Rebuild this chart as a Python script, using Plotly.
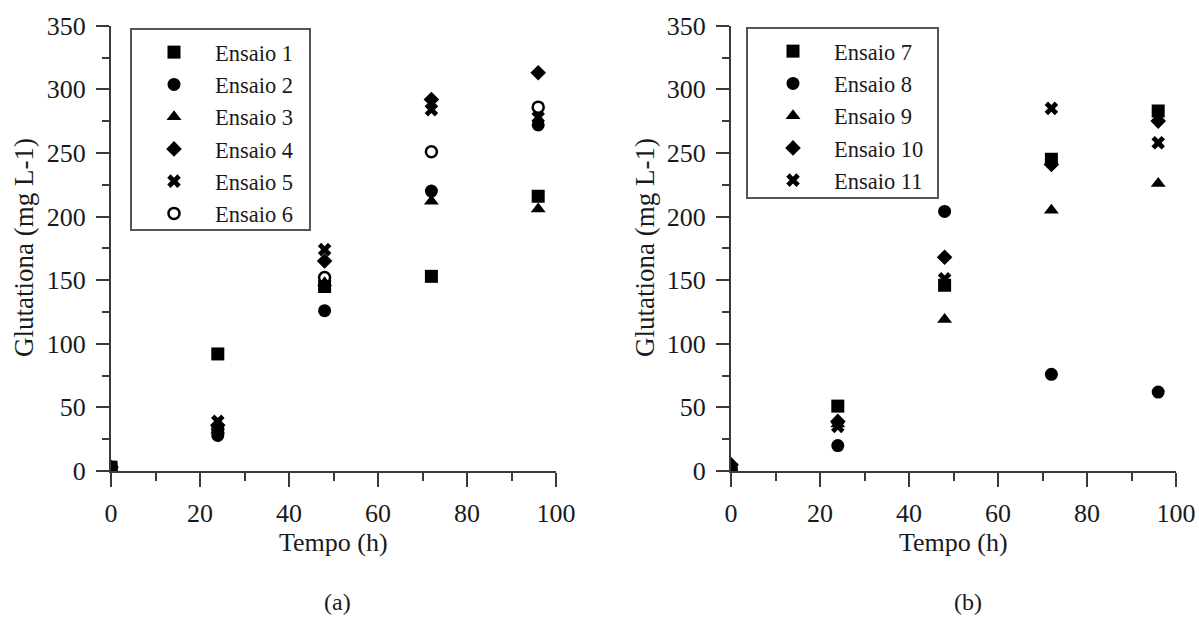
import plotly.graph_objects as go

# ---------------- data ----------------
tempo = [0, 24, 48, 72, 96]

nomes_a = ["Ensaio 1", "Ensaio 2", "Ensaio 3", "Ensaio 4", "Ensaio 5", "Ensaio 6"]
ensaio1 = [3, 92, 145, 153, 216]
ensaio2 = [3, 28, 126, 220, 272]
ensaio3 = [3, 32, 148, 212, 206]
ensaio4 = [3, 36, 165, 292, 313]
ensaio5 = [3, 39, 174, 284, 278]
ensaio6 = [3, 33, 152, 251, 286]

nomes_b = ["Ensaio 7", "Ensaio 8", "Ensaio 9", "Ensaio 10", "Ensaio 11"]
ensaio7 = [1, 51, 146, 245, 283]
ensaio8 = [2, 20, 204, 76, 62]
ensaio9 = [3, 37, 119, 205, 226]
ensaio10 = [5, 39, 168, 241, 275]
ensaio11 = [2, 35, 151, 285, 258]

x_ticks = [0, 20, 40, 60, 80, 100]
y_ticks = [0, 50, 100, 150, 200, 250, 300, 350]

# ---------------- styles ----------------
FONT = "Liberation Serif, Times New Roman, serif"
AX = "#3a3a3a"
TXT = "#1a1a1a"
styles_a = [
    dict(symbol="square", size=13, color="black"),
    dict(symbol="circle", size=13, color="black"),
    dict(symbol="triangle-up", size=13, color="black"),
    dict(symbol="diamond", size=12, color="black"),
    dict(symbol="x", size=12, color="black"),
    dict(symbol="circle", size=11, color="white", line=dict(color="black", width=2.5)),
]
styles_b = styles_a[:5]

series_a = [ensaio1, ensaio2, ensaio3, ensaio4, ensaio5, ensaio6]
series_b = [ensaio7, ensaio8, ensaio9, ensaio10, ensaio11]

fig = go.Figure()

for name, ys, st in reversed(list(zip(nomes_a, series_a, styles_a))):
    fig.add_trace(go.Scatter(x=tempo, y=ys, mode="markers", name=name, marker=st,
                             xaxis="x", yaxis="y", legend="legend"))
for name, ys, st in reversed(list(zip(nomes_b, series_b, styles_b))):
    fig.add_trace(go.Scatter(x=tempo, y=ys, mode="markers", name=name, marker=st,
                             xaxis="x2", yaxis="y2", legend="legend2"))

W, H = 1199, 617
def px(x): return x / W
def py(y): return 1 - y / H

ydom = [py(471), py(25.7)]

def xaxis(dom, anchor):
    return dict(domain=dom, anchor=anchor, range=[0, 100], tickvals=x_ticks,
                showline=True, linecolor=AX, linewidth=2, ticks="outside", ticklen=14,
                tickwidth=2, tickcolor=AX, showgrid=False, zeroline=False,
                tickfont=dict(family=FONT, size=26, color=TXT),
                ticklabelstandoff=4,
                minor=dict(dtick=10, ticks="outside", ticklen=8, tickwidth=2, tickcolor=AX,
                           showgrid=False))

def yaxis(anchor):
    return dict(domain=ydom, anchor=anchor, range=[0, 350], tickvals=y_ticks,
                showline=True, linecolor=AX, linewidth=2, ticks="outside", ticklen=13,
                tickwidth=2, tickcolor=AX, showgrid=False, zeroline=False,
                tickfont=dict(family=FONT, size=26, color=TXT),
                ticklabelstandoff=5,
                minor=dict(dtick=25, ticks="outside", ticklen=7, tickwidth=2, tickcolor=AX,
                           showgrid=False))

legend_common = dict(font=dict(family=FONT, size=22.5, color=TXT),
                     bgcolor="rgba(0,0,0,0)", borderwidth=0, traceorder="reversed",
                     xanchor="left", yanchor="top", itemwidth=72)

fig.update_layout(
    width=W, height=H,
    margin=dict(l=0, r=0, t=0, b=0, autoexpand=False),
    font=dict(family=FONT, color=TXT),
    paper_bgcolor="white", plot_bgcolor="white",
    showlegend=True,
    xaxis=xaxis([px(111), px(556)], "y"),
    yaxis=yaxis("x"),
    xaxis2=xaxis([px(731), px(1176)], "y2"),
    yaxis2=yaxis("x2"),
    legend=dict(x=px(133), y=py(31), **legend_common),
    legend2=dict(x=px(752), y=py(30), **legend_common),
    shapes=[
        dict(type="rect", xref="paper", yref="paper", x0=px(131), x1=px(310),
             y0=py(230), y1=py(29), line=dict(color="#555555", width=2)),
        dict(type="rect", xref="paper", yref="paper", x0=px(747), x1=px(938),
             y0=py(198), y1=py(28), line=dict(color="#555555", width=2)),
    ],
    annotations=[
        dict(text="Glutationa (mg L-1)", textangle=-90, xref="paper", yref="paper",
             x=px(24), y=py(248), showarrow=False, xanchor="center", yanchor="middle",
             font=dict(family=FONT, size=27, color=TXT)),
        dict(text="Glutationa (mg L-1)", textangle=-90, xref="paper", yref="paper",
             x=px(645), y=py(248), showarrow=False, xanchor="center", yanchor="middle",
             font=dict(family=FONT, size=27, color=TXT)),
        dict(text="Tempo (h)", xref="paper", yref="paper", x=px(333.5), y=py(542),
             showarrow=False, xanchor="center", yanchor="middle",
             font=dict(family=FONT, size=26, color=TXT)),
        dict(text="Tempo (h)", xref="paper", yref="paper", x=px(953.5), y=py(542),
             showarrow=False, xanchor="center", yanchor="middle",
             font=dict(family=FONT, size=26, color=TXT)),
        dict(text="(a)", xref="paper", yref="paper", x=px(337), y=py(602),
             showarrow=False, xanchor="center", yanchor="middle",
             font=dict(family=FONT, size=24, color=TXT)),
        dict(text="(b)", xref="paper", yref="paper", x=px(968), y=py(602),
             showarrow=False, xanchor="center", yanchor="middle",
             font=dict(family=FONT, size=24, color=TXT)),
    ],
)

fig.write_html("out.html")
